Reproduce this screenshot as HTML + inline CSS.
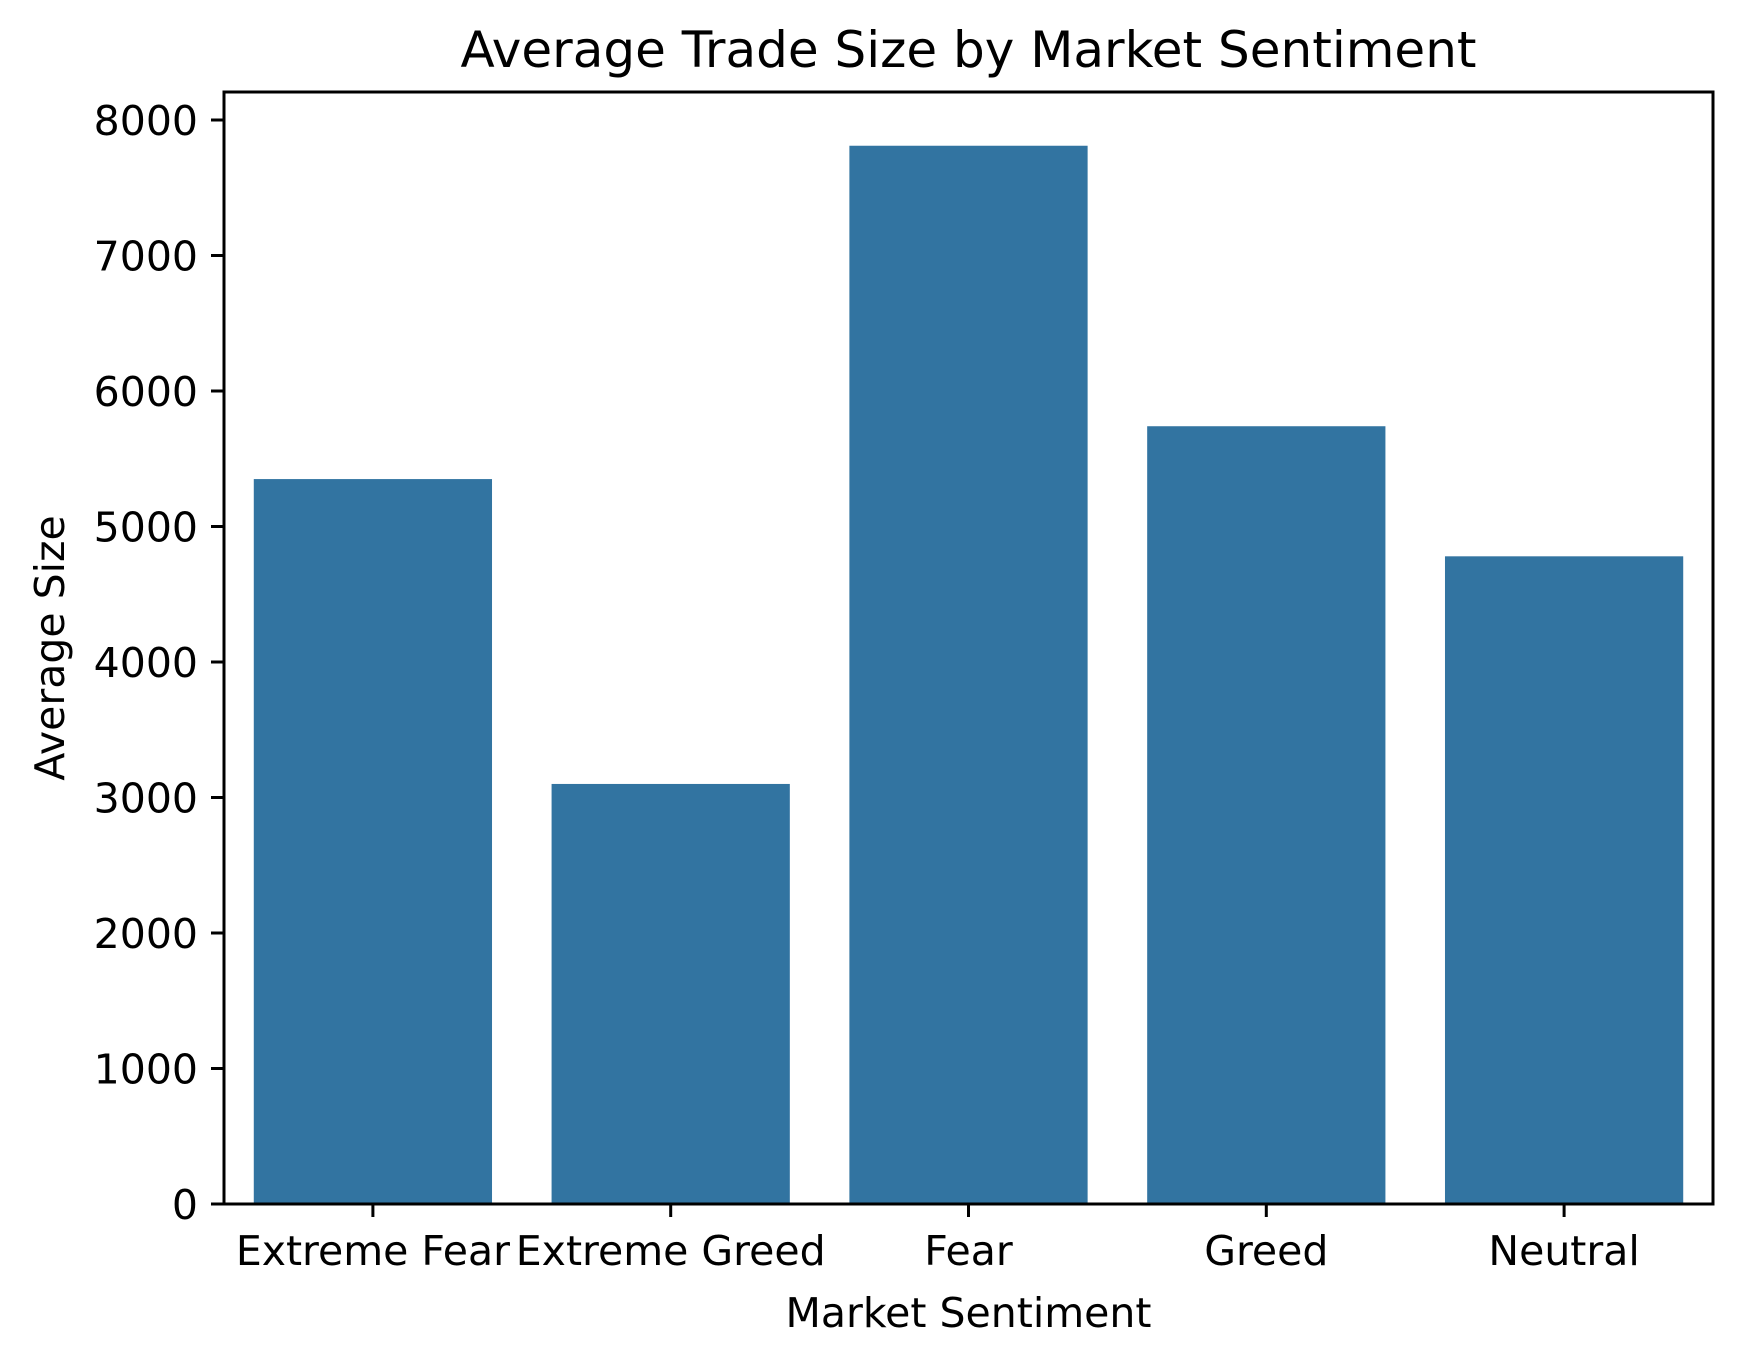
<!DOCTYPE html>
<html><head><meta charset="utf-8"><style>
html,body{margin:0;padding:0;background:#fff;}
svg{display:block;font-family:"DejaVu Sans","Liberation Sans",sans-serif;}
</style></head><body>
<svg id="chart" width="1741" height="1361" viewBox="0 0 1741 1361" xmlns="http://www.w3.org/2000/svg">
<rect width="1741" height="1361" fill="#fff"/>
<g id="bars"></g>
<g id="yaxis"></g>
<g id="xaxis"></g>
<rect x="224" y="92" width="1489" height="1112" fill="none" stroke="#000" stroke-width="3"/>
<text x="968.5" y="67" font-size="50" text-anchor="middle">Average Trade Size by Market Sentiment</text>
<text x="968.5" y="1327" font-size="41" text-anchor="middle">Market Sentiment</text>
<text transform="translate(64,648) rotate(-90)" font-size="41" text-anchor="middle">Average Size</text>
</svg>
<script>
const categories = ["Extreme Fear","Extreme Greed","Fear","Greed","Neutral"];
const values = [5350, 3100, 7810, 5740, 4780];
const yTicks = [0,1000,2000,3000,4000,5000,6000,7000,8000];

const NS="http://www.w3.org/2000/svg";
const L=224,R=1713,T=92,B=1204;
function yScale(v){return B - v*135.5/1000;}
function xScale(i){return L + (i+0.5)*(R-L)/categories.length;}
const bw=(R-L)/categories.length*0.8;
function mk(tag,attrs,parent){const e=document.createElementNS(NS,tag);for(const k in attrs)e.setAttribute(k,attrs[k]);parent.appendChild(e);return e;}
const gb=document.getElementById('bars'),gy=document.getElementById('yaxis'),gx=document.getElementById('xaxis');
values.forEach((v,i)=>{
  const r=mk('rect',{x:xScale(i)-bw/2,y:yScale(v),width:bw,height:B-yScale(v),fill:'#3274a1'},gb);
  
  
});
yTicks.forEach(t=>{
  const y=yScale(t);
  const l=mk('line',{x1:L-13,x2:L,y1:y,y2:y,stroke:'#000','stroke-width':3},gy);
  
  
  const tx=mk('text',{x:L-26,y:y+15,'font-size':41,'text-anchor':'end'},gy);
  tx.textContent=t;
  
  
});
categories.forEach((c,i)=>{
  const x=xScale(i);
  const l=mk('line',{x1:x,x2:x,y1:B,y2:B+13,stroke:'#000','stroke-width':3},gx);
  
  
  const tx=mk('text',{x:x,y:1265,'font-size':41,'text-anchor':'middle'},gx);
  tx.textContent=c;
  
  
});
</script>
</body></html>
